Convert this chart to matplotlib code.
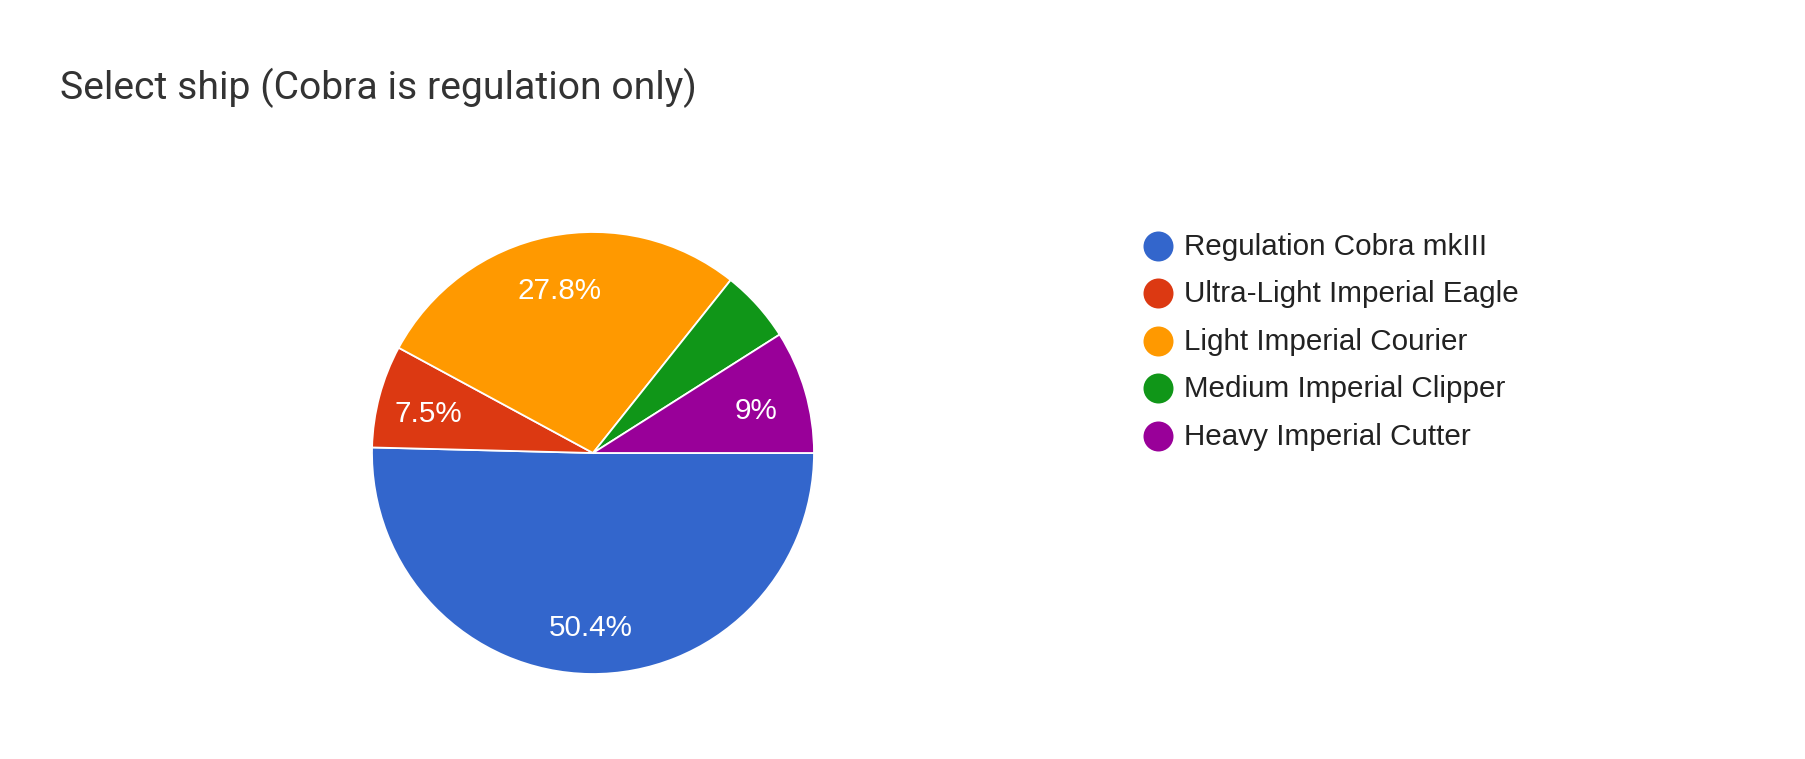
import matplotlib
matplotlib.use("Agg")
import matplotlib.pyplot as plt
import matplotlib.transforms as mtransforms

# ---- data ----
title = "Select ship (Cobra is regulation only)"
categories = ["Regulation Cobra mkIII", "Ultra-Light Imperial Eagle",
              "Light Imperial Courier", "Medium Imperial Clipper",
              "Heavy Imperial Cutter"]
values = [50.4, 7.5, 27.8, 5.3, 9.0]
colors = ["#3366cc", "#dc3912", "#ff9900", "#109618", "#990099"]

W, H = 1806, 759
DPI = 100
fig = plt.figure(figsize=(W / DPI, H / DPI), dpi=DPI)
fig.patch.set_facecolor("white")

# pie axes: center (593, 453) px, radius 221 px
cx, cy, r = 593, 453, 221
ax = fig.add_axes([(cx - r) / W, (H - cy - r) / H, 2 * r / W, 2 * r / H])


def fmt(pct):
    if pct < 6:
        return ""
    s = f"{pct:.1f}"
    if s.endswith(".0"):
        s = s[:-2]
    return s + "%"


wedges, texts, autotexts = ax.pie(
    values, colors=colors, startangle=0, counterclock=False,
    autopct=fmt, pctdistance=0.77, radius=1.0,
    wedgeprops=dict(edgecolor="white", linewidth=1.3),
    textprops=dict(color="white", fontsize=21.3, family="Liberation Sans"))
shift = mtransforms.offset_copy(ax.transData, fig=fig, x=0, y=-5, units="dots")
for t in autotexts:
    t.set_transform(shift)
ax.set_xlim(-1, 1)
ax.set_ylim(-1, 1)
ax.set_aspect("equal")

# title
fig.text(60 / W, 1 - 99.5 / H, title, fontsize=28.2, family="Roboto",
         color="#333333", ha="left", va="baseline")

# legend (overlay axes in pixel coordinates)
lax = fig.add_axes([0, 0, 1, 1])
lax.set_xlim(0, W)
lax.set_ylim(H, 0)
lax.axis("off")
lax.patch.set_alpha(0)
mx, tx, y0, dy = 1158, 1184, 246, 47.4
for i, (lab, col) in enumerate(zip(categories, colors)):
    y = y0 + dy * i
    lax.scatter([mx], [y], s=(30 * 72 / DPI) ** 2, color=col, linewidths=0)
    lax.text(tx, y + 1, lab, fontsize=21.3, family="Liberation Sans",
             color="#222222", ha="left", va="center")

fig.savefig("out.png", dpi=DPI)
